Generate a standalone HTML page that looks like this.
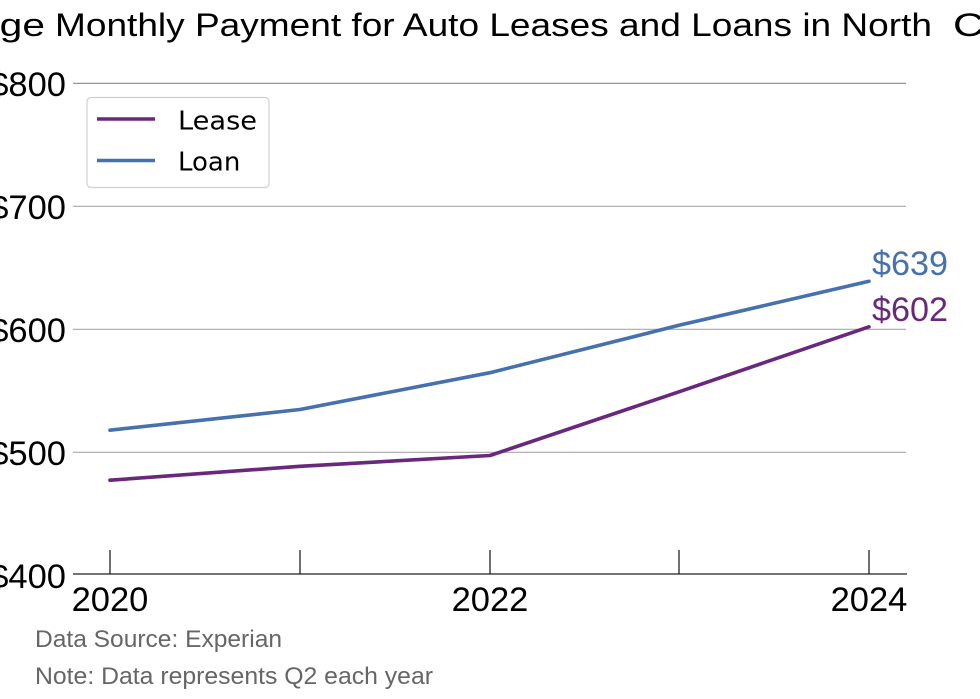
<!DOCTYPE html>
<html>
<head>
<meta charset="utf-8">
<style>
html,body{margin:0;padding:0;background:#fff;}
svg{display:block;}
</style>
</head>
<body>
<svg width="980" height="699" viewBox="0 0 980 699" xmlns="http://www.w3.org/2000/svg">
  <rect x="0" y="0" width="980" height="699" fill="#fff"/>
  <!-- Title -->
  <g font-family="Liberation Sans, Arial, sans-serif" font-size="32.5" fill="#000">
    <text x="-106" y="36" textLength="151" lengthAdjust="spacingAndGlyphs">Average</text>
    <text x="55" y="36" textLength="877" lengthAdjust="spacingAndGlyphs">Monthly Payment for Auto Leases and Loans in North</text>
    <text x="953" y="36" textLength="160" lengthAdjust="spacingAndGlyphs">Carolina</text>
  </g>
  <!-- gridlines -->
  <g stroke="#a8a8a8" stroke-width="1.2">
    <line x1="73" y1="83.3" x2="906" y2="83.3" stroke="#8a8a8a"/>
    <line x1="73" y1="206.3" x2="906" y2="206.3"/>
    <line x1="73" y1="329.3" x2="906" y2="329.3"/>
    <line x1="73" y1="452.3" x2="906" y2="452.3"/>
  </g>
  <!-- x axis -->
  <g stroke="#222" stroke-width="1.3">
    <line x1="73" y1="574" x2="907" y2="574"/>
    <line x1="110" y1="550" x2="110" y2="574"/>
    <line x1="300" y1="550" x2="300" y2="574"/>
    <line x1="490" y1="550" x2="490" y2="574"/>
    <line x1="679" y1="550" x2="679" y2="574"/>
    <line x1="869" y1="550" x2="869" y2="574"/>
  </g>
  <!-- y labels -->
  <g font-family="Liberation Sans, Arial, sans-serif" font-size="34.5" fill="#000" text-anchor="end">
    <text x="66" y="96">$800</text>
    <text x="66" y="219">$700</text>
    <text x="66" y="342">$600</text>
    <text x="66" y="465">$500</text>
    <text x="66" y="588">$400</text>
  </g>
  <!-- x labels -->
  <g font-family="Liberation Sans, Arial, sans-serif" font-size="34.5" fill="#000" text-anchor="middle">
    <text x="110" y="611">2020</text>
    <text x="490" y="611">2022</text>
    <text x="869" y="611">2024</text>
  </g>
  <!-- series -->
  <polyline points="110,430.2 300,409.5 490,372.7 679,325.3 869,281.3" fill="none" stroke="#4571ad" stroke-width="3.6" stroke-linejoin="round" stroke-linecap="round"/>
  <polyline points="110,480.2 300,466.3 490,455.5 679,391.8 869,326.8" fill="none" stroke="#69287c" stroke-width="3.6" stroke-linejoin="round" stroke-linecap="round"/>
  <!-- end labels -->
  <g font-family="Liberation Sans, Arial, sans-serif" font-size="34.5">
    <text x="872" y="275" fill="#4571ad" textLength="76" lengthAdjust="spacingAndGlyphs">$639</text>
    <text x="872" y="321" fill="#69287c" textLength="76" lengthAdjust="spacingAndGlyphs">$602</text>
  </g>
  <!-- legend -->
  <rect x="87" y="97.5" width="182" height="90" rx="4" ry="4" fill="#fff" stroke="#d0d0d0" stroke-width="1.2"/>
  <line x1="97" y1="119" x2="155" y2="119" stroke="#69287c" stroke-width="3.6"/>
  <line x1="97" y1="160.5" x2="155" y2="160.5" stroke="#4571ad" stroke-width="3.6"/>
  <g font-family="DejaVu Sans, Liberation Sans, sans-serif" font-size="26" fill="#000">
    <text x="178" y="129.5" textLength="79" lengthAdjust="spacingAndGlyphs">Lease</text>
    <text x="178" y="170.5">Loan</text>
  </g>
  <!-- footer -->
  <g font-family="Liberation Sans, Arial, sans-serif" font-size="24" fill="#666">
    <text x="35" y="647" textLength="247" lengthAdjust="spacingAndGlyphs">Data Source: Experian</text>
    <text x="35" y="684" textLength="398" lengthAdjust="spacingAndGlyphs">Note: Data represents Q2 each year</text>
  </g>
</svg>
</body>
</html>
